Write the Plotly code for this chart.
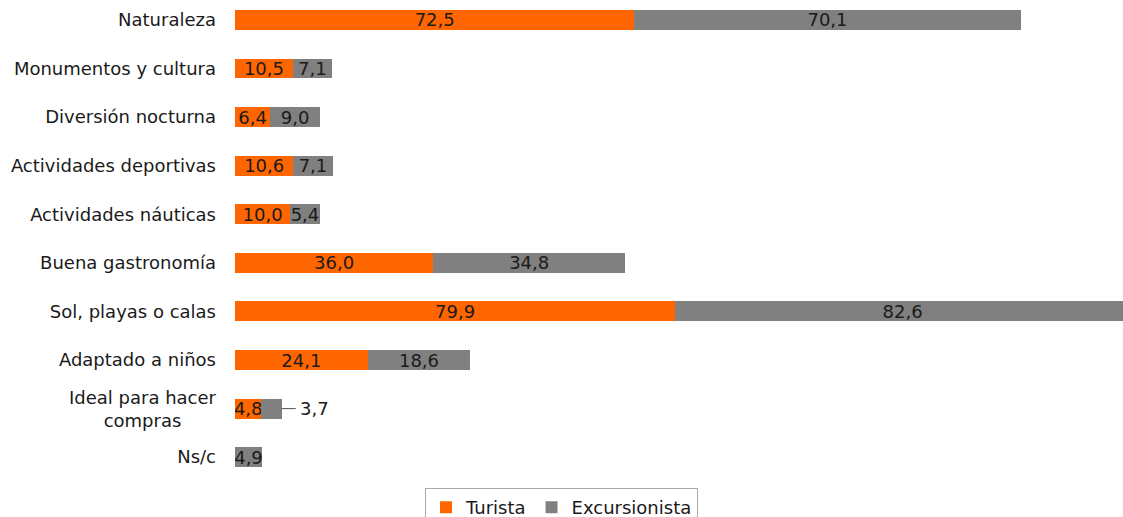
import plotly.graph_objects as go

categorias = ["Naturaleza", "Monumentos y cultura", "Diversión nocturna",
              "Actividades deportivas", "Actividades náuticas", "Buena gastronomía",
              "Sol, playas o calas", "Adaptado a niños", "Ideal para hacer compras", "Ns/c"]
turista = [72.5, 10.5, 6.4, 10.6, 10.0, 36.0, 79.9, 24.1, 4.8, 0]
excursionista = [70.1, 7.1, 9.0, 7.1, 5.4, 34.8, 82.6, 18.6, 3.7, 4.9]

FONT = "DejaVu Sans"
NARANJA = "#FF6600"
GRIS = "#808080"
TXT = "#1a1a1a"


def fmt(v):
    return f"{v:.1f}".replace(".", ",")


# etiquetas de barra (la 3,7 va fuera con una línea)
txt_tur = [fmt(v) if v > 0 else "" for v in turista]
txt_exc = [fmt(v) for v in excursionista]
txt_exc[8] = ""

ticktext = [c if c != "Ideal para hacer compras" else "" for c in categorias]

fig = go.Figure()
fig.add_trace(go.Bar(y=categorias, x=turista, name="Turista", orientation="h",
                     marker=dict(color=NARANJA, line=dict(width=0)),
                     text=txt_tur, textposition="inside", insidetextanchor="middle",
                     constraintext="none", textangle=0,
                     textfont=dict(color=TXT, size=18, family=FONT)))
fig.add_trace(go.Bar(y=categorias, x=excursionista, name="Excursionista", orientation="h",
                     marker=dict(color=GRIS, line=dict(width=0)),
                     text=txt_exc, textposition="inside", insidetextanchor="middle",
                     constraintext="none", textangle=0,
                     textfont=dict(color=TXT, size=18, family=FONT)))

# 3,7 fuera de la barra
x37 = turista[8] + excursionista[8]
fig.add_annotation(x=x37, y=categorias[8], xref="x", yref="y",
                   ax=x37 + 2.8, ay=categorias[8], axref="x", ayref="y",
                   text="", showarrow=True, arrowhead=0, arrowwidth=1, arrowcolor="#555555")
fig.add_annotation(x=x37 + 3.0, y=categorias[8], xref="x", yref="y", xanchor="left",
                   text=fmt(excursionista[8]), showarrow=False,
                   font=dict(size=18, color=TXT, family=FONT))

# etiqueta de dos líneas centrada
fig.add_annotation(x=0, y=categorias[8], xref="paper", yref="y", xanchor="right",
                   xshift=-16, align="center", showarrow=False,
                   text="Ideal para hacer<br>compras",
                   font=dict(size=18, color=TXT, family=FONT))

fig.update_layout(
    width=1123, height=517,
    barmode="stack", bargap=0.59,
    plot_bgcolor="white", paper_bgcolor="white",
    margin=dict(l=235, r=0, t=0, b=37, autoexpand=False),
    font=dict(family=FONT, size=18, color=TXT),
    xaxis=dict(range=[0, 161.2], visible=False),
    yaxis=dict(categoryorder="array", categoryarray=categorias,
               tickmode="array", tickvals=categorias, ticktext=ticktext,
               range=[9.47, -0.41], showgrid=False, showline=False,
               ticks="", ticklabelstandoff=18, automargin=False,
               tickfont=dict(size=18, color=TXT, family=FONT)),
    legend=dict(orientation="h", xref="container", x=0.5, xanchor="center",
                yref="container", y=0.056, yanchor="top",
                bordercolor="#aaaaaa", borderwidth=1,
                font=dict(size=18, family=FONT, color=TXT),
                itemwidth=30, traceorder="normal", tracegroupgap=0),
    showlegend=True,
)

# quitar el margen del body para que la figura empiece en (0, 0)
fig.write_html("out.html", config={"displayModeBar": False},
               post_script="document.body.style.margin='0';")
